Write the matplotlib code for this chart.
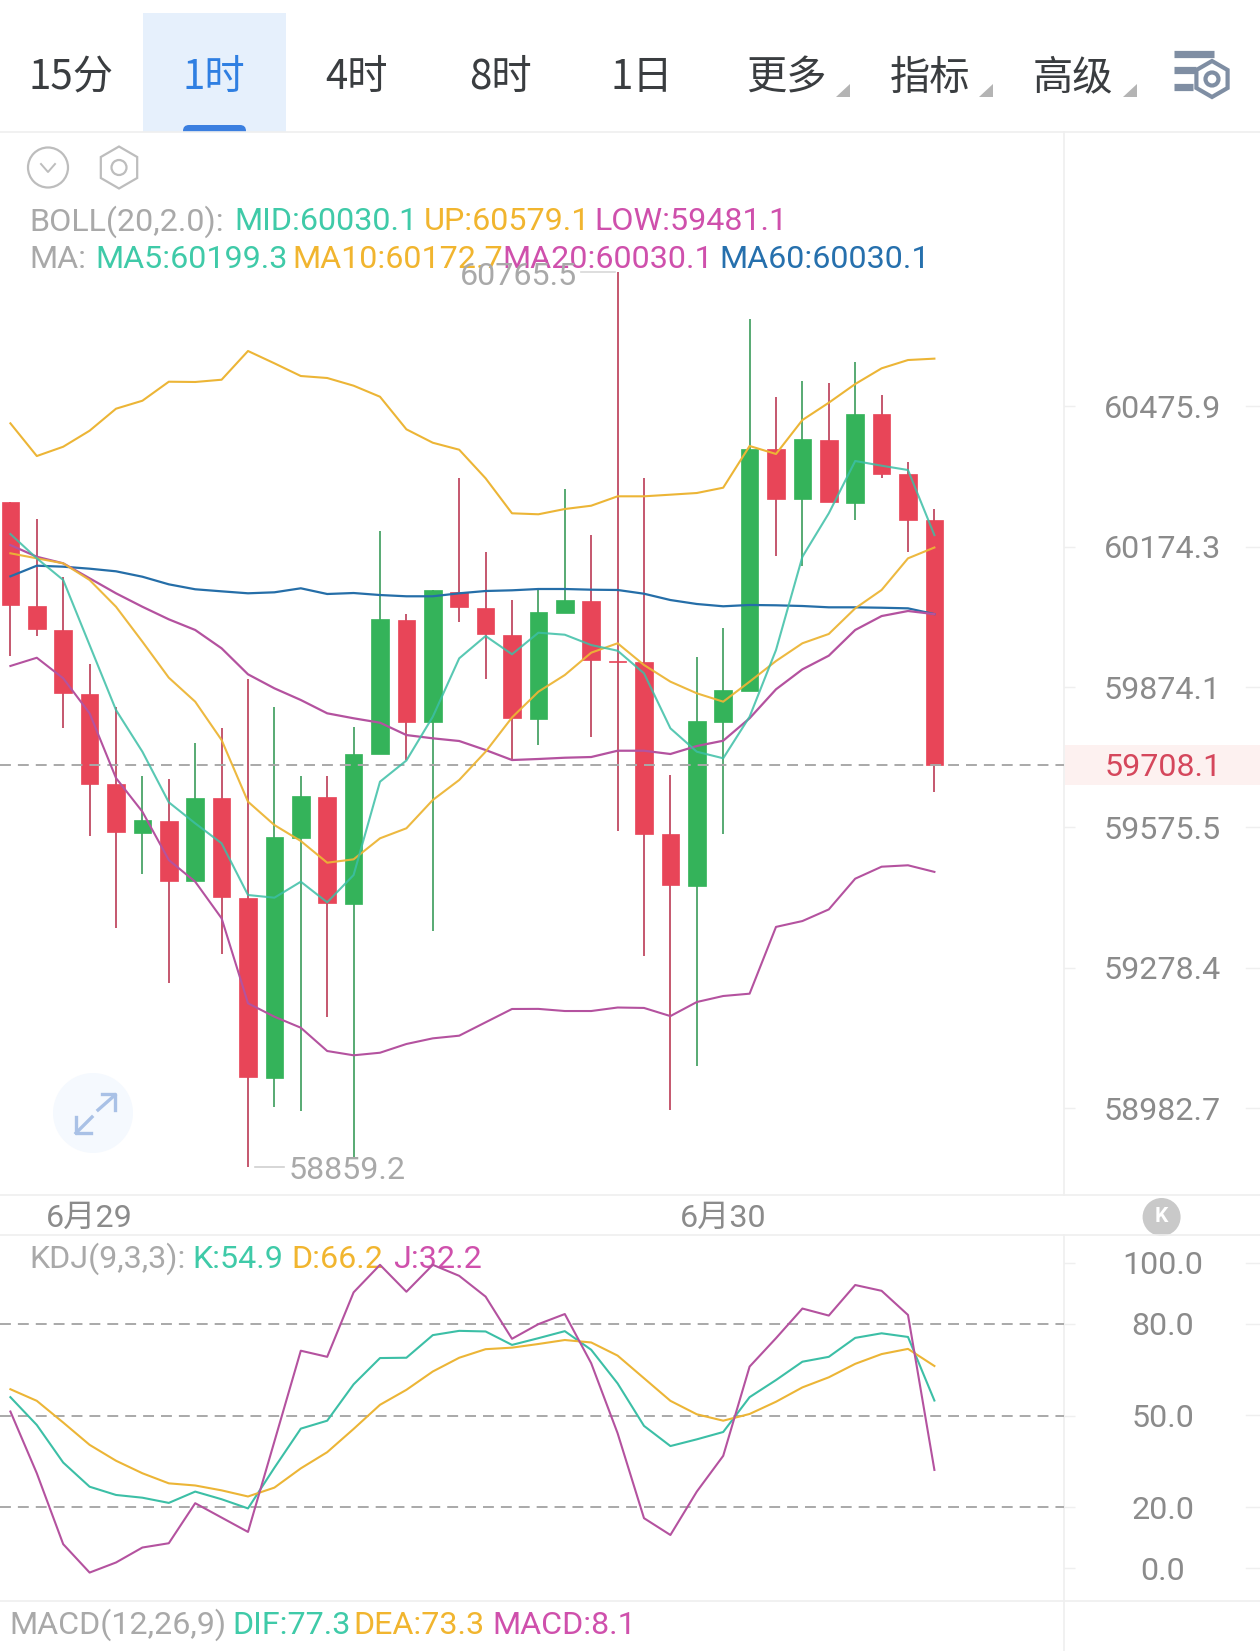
import numpy as np
import matplotlib
matplotlib.use("Agg")
import matplotlib.pyplot as plt
from matplotlib.patches import Circle, Polygon, Rectangle, FancyBboxPatch

plt.rcParams['font.family'] = ['Roboto', 'Noto Sans CJK SC', 'DejaVu Sans']

# candles, one hour each
opens = [60270.3, 60047.4, 59996.1, 59859.4, 59667.0, 59564.2, 59589.7, 59461.1, 59637.9, 59426.4,
         59046.4, 59553.6, 59640.6, 59413.7, 59730.9, 60017.4, 59799.1, 60078.0, 60043.1, 59985.3,
         59806.7, 60033.1, 60058.7, 59929.8, 59927.0, 59561.5, 59452.1, 59800.3, 59866.4, 60383.7,
         60276.8, 60403.7, 60268.9, 60459.1, 60330.5, 60231.7]
closes = [60049.6, 59997.6, 59860.9, 59668.3, 59565.1, 59591.2, 59461.8, 59638.5, 59427.9, 59047.9,
          59554.5, 59642.1, 59415.1, 59731.5, 60018.9, 59800.3, 60081.0, 60044.6, 59986.8, 59807.6,
          60033.9, 60060.2, 59931.9, 59928.5, 59562.3, 59452.6, 59801.8, 59867.9, 60385.0, 60277.5,
          60405.1, 60269.7, 60460.3, 60331.2, 60231.7, 59708.1]
highs = [60270.3, 60233.9, 60109.4, 59923.4, 59831.6, 59684.7, 59677.7, 59755.6, 59786.2, 59891.4,
         59831.0, 59684.7, 59684.7, 59789.7, 60208.1, 60030.3, 60081.0, 60321.3, 60162.4, 60060.2,
         60083.8, 60298.3, 60199.5, 60765.5, 60321.3, 59687.5, 59938.9, 59999.7, 60664.0, 60495.6,
         60530.2, 60525.8, 60571.1, 60500.6, 60357.0, 60255.3]
lows = [59940.5, 59983.8, 59786.2, 59557.9, 59361.6, 59476.0, 59246.7, 59461.1, 59307.9, 58859.2,
        58985.4, 58975.7, 59174.9, 58877.7, 59730.9, 59718.7, 59356.5, 60012.6, 59890.8, 59718.7,
        59750.7, 60033.1, 59768.3, 59568.1, 59303.3, 58978.9, 59071.6, 59560.8, 59866.4, 60155.2,
        60133.1, 60269.7, 60231.7, 60321.3, 60163.7, 59650.0]

# bollinger bands, the middle one is also MA20
boll_up = [60439.6, 60369.2, 60389.2, 60423.7, 60471.1, 60488.3, 60529.3, 60528.7, 60533.6, 60595.6,
           60569.0, 60541.6, 60537.3, 60520.7, 60496.9, 60426.7, 60397.8, 60382.8, 60321.3, 60246.1,
           60244.0, 60255.3, 60262.4, 60282.6, 60282.6, 60286.1, 60289.7, 60301.1, 60390.8, 60373.6,
           60446.7, 60484.0, 60524.3, 60558.2, 60576.1, 60579.1]
boll_low = [59919.2, 59936.8, 59892.9, 59818.2, 59680.4, 59608.8, 59506.2, 59460.3, 59382.8, 59203.2,
            59174.9, 59151.7, 59102.6, 59093.6, 59099.0, 59117.4, 59129.3, 59134.9, 59163.1, 59191.2,
            59191.4, 59186.9, 59186.9, 59194.3, 59193.4, 59176.2, 59205.9, 59218.6, 59223.5, 59364.6,
            59377.0, 59401.6, 59466.7, 59492.1, 59495.1, 59481.1]
ma20 = [60178.0, 60152.9, 60138.8, 60106.7, 60074.6, 60045.8, 60018.9, 59996.1, 59956.9, 59901.4,
        59871.5, 59846.6, 59818.2, 59807.6, 59798.2, 59771.9, 59764.9, 59759.2, 59740.0, 59718.7,
        59720.9, 59723.6, 59725.1, 59738.5, 59738.5, 59731.5, 59748.5, 59759.8, 59807.6, 59869.4,
        59912.0, 59941.2, 59996.1, 60025.9, 60036.7, 60030.1]
ma60 = [60110.9, 60133.7, 60131.6, 60127.3, 60121.7, 60110.1, 60093.8, 60083.2, 60078.8, 60074.6,
        60076.7, 60085.3, 60073.1, 60075.2, 60070.9, 60068.2, 60068.2, 60074.6, 60079.5, 60081.0,
        60083.8, 60083.8, 60082.3, 60081.7, 60073.7, 60060.2, 60051.7, 60046.8, 60049.6, 60048.9,
        60047.4, 60044.6, 60044.6, 60043.7, 60042.4, 60030.1]
ma5 = [60201.6, 60149.5, 60103.1, 59963.9, 59825.2, 59736.4, 59628.8, 59584.1, 59541.7, 59432.1,
       59426.4, 59460.3, 59416.6, 59474.5, 59672.6, 59717.7, 59811.0, 59935.5, 59983.2, 59944.2,
       59990.3, 59986.0, 59963.9, 59951.8, 59903.5, 59786.2, 59736.4, 59722.4, 59811.0, 59953.3,
       60152.9, 60246.1, 60358.5, 60348.4, 60339.1, 60199.3]
ma10 = [60160.3, 60149.5, 60138.8, 60103.1, 60045.8, 59971.1, 59894.2, 59843.0, 59761.3, 59630.1,
        59580.5, 59546.6, 59500.6, 59507.7, 59552.3, 59573.6, 59633.7, 59676.2, 59736.4, 59809.3,
        59864.3, 59899.9, 59947.6, 59967.7, 59921.3, 59885.7, 59860.9, 59843.0, 59885.7, 59929.8,
        59967.7, 59987.6, 60042.4, 60081.7, 60149.5, 60172.7]

# KDJ pane
kdj_k = [56.0, 46.9, 34.6, 26.7, 24.0, 23.1, 21.4, 25.1, 22.6, 19.6, 32.9, 45.7, 48.3, 60.2, 68.8, 68.9,
         76.3, 77.7, 77.5, 73.1, 75.3, 77.6, 71.5, 60.5, 46.6, 40.0, 42.2, 44.6, 56.0, 61.6, 67.6, 69.2,
         75.4, 76.9, 75.7, 54.9]
kdj_d = [58.6, 54.8, 47.7, 40.4, 35.2, 31.1, 27.8, 27.1, 25.5, 23.5, 26.4, 32.7, 38.0, 45.6, 53.5, 58.4,
         64.4, 68.9, 71.7, 72.2, 73.4, 74.7, 73.9, 69.6, 62.2, 54.8, 50.4, 48.3, 50.5, 54.5, 59.2, 62.5,
         66.9, 70.1, 71.8, 66.2]
kdj_j = [51.3, 31.1, 7.9, -1.4, 1.9, 6.8, 8.2, 21.3, 16.6, 11.9, 41.5, 71.2, 69.2, 90.3, 99.3, 90.5,
         99.3, 95.7, 88.9, 75.1, 79.9, 83.2, 67.1, 44.2, 16.4, 10.9, 25.1, 36.8, 66.0, 75.3, 85.0, 82.7,
         92.7, 90.8, 82.9, 32.2]

price_ticks = [60475.9, 60174.3, 59874.1, 59575.5, 59278.4, 58982.7]
kdj_ticks = [100.0, 80.0, 50.0, 20.0, 0.0]
kdj_levels = [80.0, 50.0, 20.0]
last_price = 59708.1
top_price = 60765.5
bottom_price = 58859.2
date_pos = [3, 27]
date_labels = ['6月29', '6月30']
tabs = ['15分', '1时', '4时', '8时', '1日', '更多', '指标', '高级']

RED = '#e84558'
GREEN = '#34b35a'
RED_WICK = '#c04a62'
GREEN_WICK = '#4aa468'
TEAL = '#3cbfa6'
YELLOW = '#ecb536'
PURPLE = '#b4529f'
BLUE = '#256ea8'
TXT_TEAL = '#3fcaa8'
TXT_YELLOW = '#f1b52f'
TXT_PINK = '#cf50ac'
TXT_BLUE = '#2670ad'
GRAY = '#a9a9a9'
AXIS_TXT = '#8b8b8b'
RULE = '#efefef'

W, H = 1260, 1651
XSTEP = 26.4
X0 = 10.4
SPLIT = 1064
LOG_PX = 28060.0
FS = 23.2
LEGEND_FS = 23.2

fig = plt.figure(figsize=(W / 100, H / 100), dpi=100, facecolor='white')

# whole-figure layer in pixel coordinates for the toolbar and legends
ui = fig.add_axes([0, 0, 1, 1], zorder=0)
ui.set_xlim(0, W)
ui.set_ylim(H, 0)
ui.axis('off')


def pane(top, bottom):
    ax = fig.add_axes([0, 1 - bottom / H, SPLIT / W, (bottom - top) / H], zorder=1)
    ax.patch.set_alpha(0)
    ax.set_xlim(-X0 / XSTEP, (SPLIT - X0) / XSTEP)
    for s in ax.spines.values():
        s.set_visible(False)
    return ax


def right_labels(ax, ticks, fmt='%.1f'):
    ax.set_yticks(ticks, [fmt % t for t in ticks])
    ax.minorticks_off()
    ax.tick_params(axis='y', left=False, right=True, labelleft=False, labelright=True, length=8,
                   width=1, color=RULE, pad=63, labelsize=FS, labelcolor=AXIS_TXT)
    for lab in ax.get_yticklabels():
        lab.set_horizontalalignment('center')


# price pane, log scale
ax = pane(132, 1195)
ax.set_yscale('log')
ax.set_ylim(price_ticks[-1] * np.exp((1108 - 1195) / LOG_PX), price_ticks[-1] * np.exp((1108 - 132) / LOG_PX))
right_labels(ax, price_ticks)
ax.set_xticks(date_pos, date_labels)
ax.tick_params(axis='x', length=0, pad=17, labelsize=FS, labelcolor=AXIS_TXT)
for lab in ax.get_xticklabels():
    lab.set_verticalalignment('center')

xs = np.arange(len(opens))
for i in xs:
    up = closes[i] >= opens[i]
    ax.vlines(i, lows[i], highs[i], color=GREEN_WICK if up else RED_WICK, lw=1.3, zorder=2)
    lo, hi = min(opens[i], closes[i]), max(opens[i], closes[i])
    ax.bar(i, hi - lo, bottom=lo, width=0.66, color=GREEN if up else RED,
           edgecolor=GREEN if up else RED, lw=0.5, zorder=3)

ax.plot(xs, boll_up, color=YELLOW, lw=1.5, zorder=4)
ax.plot(xs, boll_low, color=PURPLE, lw=1.5, zorder=4)
ax.plot(xs, ma60, color=BLUE, lw=1.6, zorder=4)
ax.plot(xs, ma20, color=PURPLE, lw=1.6, zorder=4)
ax.plot(xs, ma10, color=YELLOW, lw=1.5, alpha=0.95, zorder=4)
ax.plot(xs, ma5, color=TEAL, lw=1.5, alpha=0.85, zorder=4)
ax.axhline(last_price, color=GRAY, lw=1.4, ls=(0, (5.6, 3.6)), zorder=3.5)

# extreme markers beside the wicks
imax = highs.index(top_price)
imin = lows.index(bottom_price)
ax.plot([imax - 1.4, imax - 0.1], [top_price, top_price], color='#d8d8d8', lw=1.2, zorder=2)
ax.plot([imin + 0.25, imin + 1.35], [bottom_price, bottom_price], color='#d0d0d0', lw=1.2, zorder=2)
ax.annotate('%.1f' % top_price, (imax, top_price), xytext=(-29, -3), textcoords='offset points',
            ha='right', va='center', fontsize=FS, color=GRAY, zorder=6)
ax.annotate('%.1f' % bottom_price, (imin, bottom_price), xytext=(29.5, -3), textcoords='offset points',
            ha='left', va='center', fontsize=FS, color=GRAY, zorder=6)

# KDJ pane
kd = pane(1235, 1600.7)
kd.set_ylim((1568.3 - 1600.7) / 3.056, (1568.3 - 1235) / 3.056)
kd.set_xticks([])
right_labels(kd, kdj_ticks)
for lev in kdj_levels:
    kd.axhline(lev, color=GRAY, lw=1.4, ls=(0, (5.6, 3.6)), zorder=1)
kd.plot(xs, kdj_k, color=TEAL, lw=1.5, zorder=3)
kd.plot(xs, kdj_d, color=YELLOW, lw=1.5, zorder=3)
kd.plot(xs, kdj_j, color=PURPLE, lw=1.5, zorder=3)

# pane rules
for y in [132, 1195, 1235, 1600.7]:
    ui.plot([0, W], [y, y], color=RULE, lw=1.2)
ui.plot([SPLIT, SPLIT], [132, 1195], color=RULE, lw=1.2)
ui.plot([SPLIT, SPLIT], [1235, H], color=RULE, lw=1.2)
for t in price_ticks:
    y = 1108 - LOG_PX * np.log(t / price_ticks[-1])
    ui.plot([1246, W], [y, y], color=RULE, lw=1)
for t in kdj_ticks:
    y = 1568.3 - 3.056 * t
    ui.plot([1246, W], [y, y], color=RULE, lw=1)

# toolbar
ui.add_patch(Rectangle((143, 13), 143, 119, color='#e6f0fc', lw=0))
ui.add_patch(FancyBboxPatch((183, 125), 63, 14, boxstyle='round,pad=0,rounding_size=6', color='#3b7fe0', lw=0))
ui.add_patch(Rectangle((176, 132.5), 78, 9, color='white', lw=0))
tab_x = [71, 214, 357, 500, 642, 786, 930, 1073]
for name, x in zip(tabs, tab_x):
    ui.text(x, 78, name, ha='center', va='center', fontsize=29, family=['Noto Sans CJK SC', 'DejaVu Sans'],
            color='#2f7fe2' if name == '1时' else '#3a3d40')
for x in [850, 993, 1137]:
    ui.add_patch(Polygon([[x, 84], [x, 97], [x - 14, 97]], color='#b4b4b4', lw=0))

# settings icon
for yy, x1 in [(54.5, 1214), (70.5, 1196), (87, 1193)]:
    ui.plot([1174, x1], [yy, yy], color='#7f8ea3', lw=5.2, solid_capstyle='butt')
ang = np.deg2rad(np.arange(30, 390, 60))
ui.add_patch(Polygon(np.c_[1212 + 18 * np.cos(ang), 79 + 18 * np.sin(ang)], fill=True, facecolor='white', edgecolor='#7f8ea3', lw=3))
ui.add_patch(Circle((1212, 79), 6.5, fill=False, edgecolor='#7f8ea3', lw=3))

# collapse and settings glyphs over the price pane
ui.add_patch(Circle((48, 167.5), 20, fill=False, edgecolor='#bdbdbd', lw=1.6))
ui.plot([41, 48, 55], [164, 172, 164], color='#bdbdbd', lw=1.4)
ui.add_patch(Polygon(np.c_[119 + 21 * np.cos(ang), 167.5 + 21 * np.sin(ang)], fill=False, edgecolor='#bdbdbd', lw=1.6))
ui.add_patch(Circle((119, 167.5), 7.5, fill=False, edgecolor='#bdbdbd', lw=1.6))

# expand button
ui.add_patch(Circle((93, 1113), 40, color='#f5f9fe', lw=0))
arrow = '#a9c1e6'
ui.plot([98, 115], [1110, 1095], color=arrow, lw=2.4)
ui.plot([102, 115, 115], [1094, 1094, 1110], color=arrow, lw=2.4)
ui.plot([92, 76], [1117, 1133], color=arrow, lw=2.4)
ui.plot([76, 76, 91], [1117, 1133, 1133], color=arrow, lw=2.4)

# current price badge
ui.add_patch(Rectangle((SPLIT + 1, 745), W - SPLIT, 40, color='#fdf1f0', lw=0))
ui.text(1163, 767.5, '%.1f' % last_price, ha='center', va='center', fontsize=FS, color='#d5475c')

# back-to-latest button
ui.add_patch(Circle((1161.6, 1217), 19, color='#c9c9c9', lw=0))
ui.text(1161.6, 1217, 'K', ha='center', va='center', fontsize=15, fontweight='bold', color='white')

# legends, each entry starts at its own x
legend_rows = [
    (222, [(29, 'BOLL(20,2.0):', GRAY), (234, 'MID:60030.1', TXT_TEAL), (424, 'UP:60579.1', TXT_YELLOW), (594, 'LOW:59481.1', TXT_PINK)]),
    (260, [(29, 'MA:', GRAY), (95, 'MA5:60199.3', TXT_TEAL), (292, 'MA10:60172.7', TXT_YELLOW), (502, 'MA20:60030.1', TXT_PINK), (719, 'MA60:60030.1', TXT_BLUE)]),
    (1259, [(29, 'KDJ(9,3,3):', GRAY), (192, 'K:54.9', TXT_TEAL), (291, 'D:66.2', TXT_YELLOW), (393, 'J:32.2', TXT_PINK)]),
    (1625, [(9, 'MACD(12,26,9)', GRAY), (232, 'DIF:77.3', TXT_TEAL), (353, 'DEA:73.3', TXT_YELLOW), (492, 'MACD:8.1', TXT_PINK)]),
]
for y, row in legend_rows:
    for x, label, col in row:
        ui.text(x, y, label, ha='left', va='center', fontsize=LEGEND_FS, color=col)

# MACD axis label running off the bottom edge
ui.text(1161, 1665, '202.1', ha='center', va='center', fontsize=FS, color=AXIS_TXT, clip_on=True)

fig.savefig('out.png', dpi=100)
